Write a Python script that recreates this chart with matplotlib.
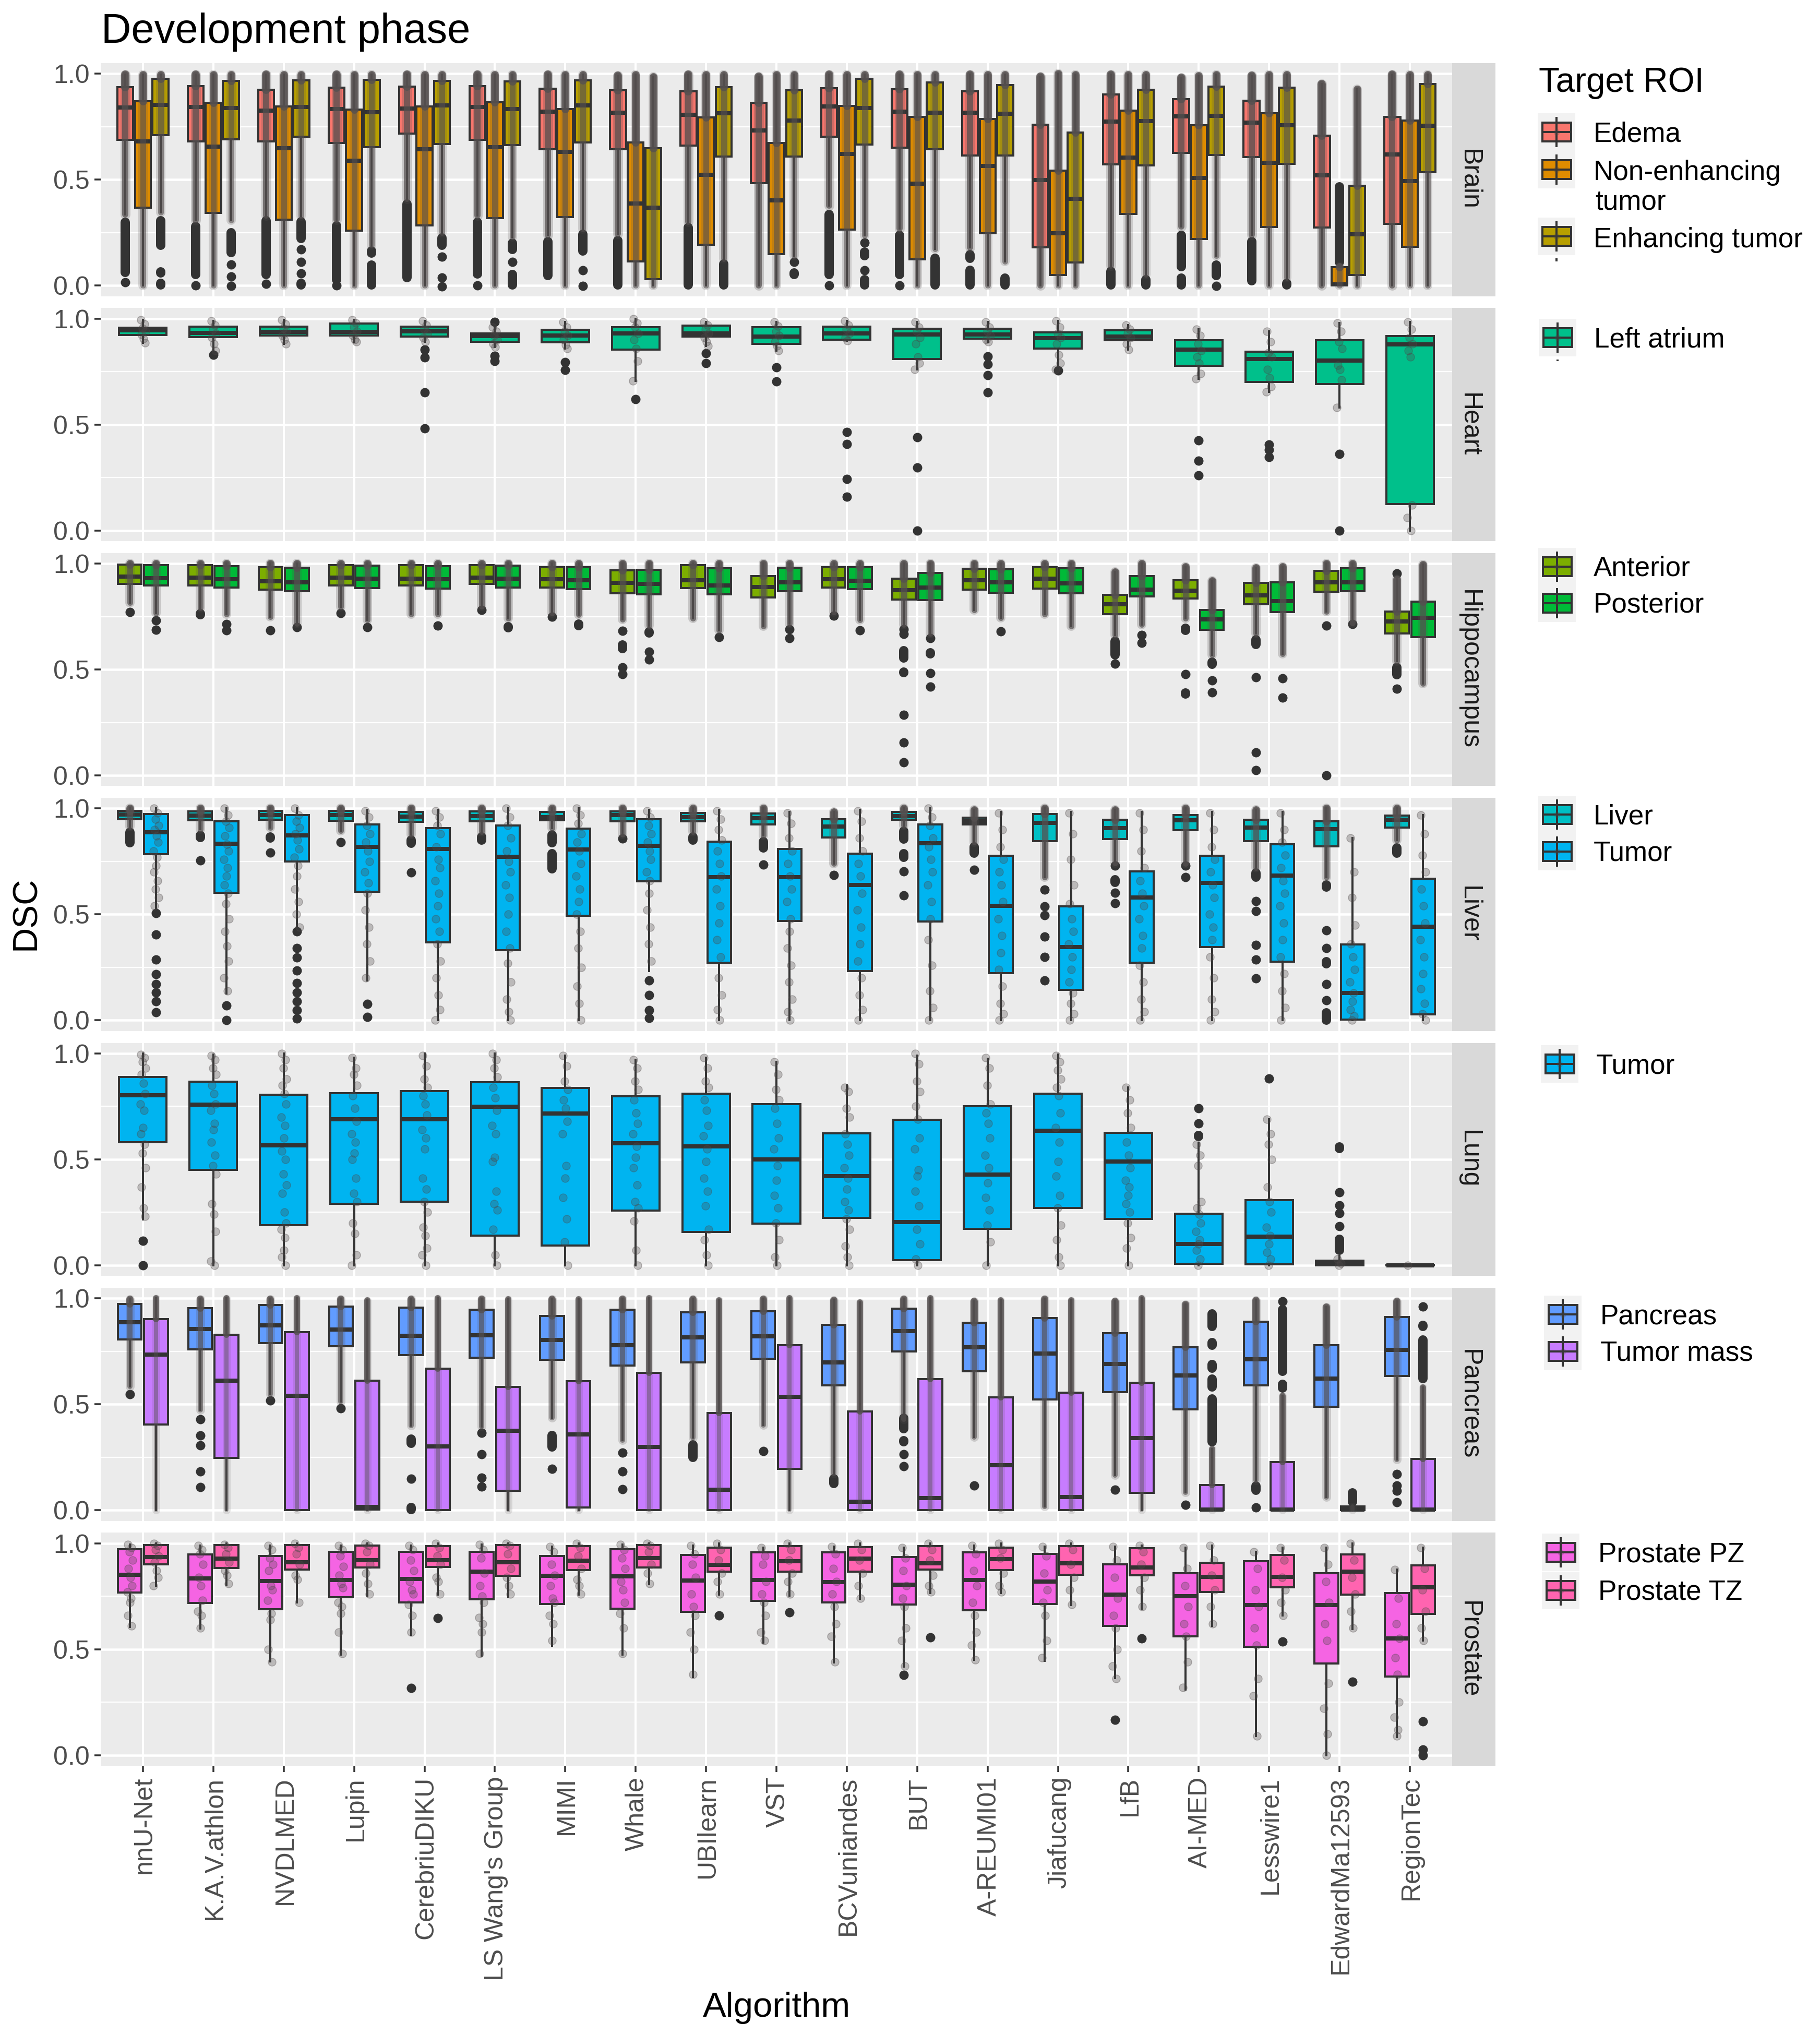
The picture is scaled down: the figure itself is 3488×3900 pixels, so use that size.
import matplotlib
matplotlib.use('Agg')
import matplotlib.pyplot as plt
from matplotlib.patches import Rectangle
from matplotlib.transforms import ScaledTranslation

DPI = 100
W, H = 3488, 3900
plt.rcParams['font.family'] = ['Liberation Sans', 'DejaVu Sans']

def px(n):
    return n * 72 / DPI

algorithms = ['nnU-Net', 'K.A.V.athlon', 'NVDLMED', 'Lupin', 'CerebriuDIKU', "LS Wang's Group", 'MIMI',
              'Whale', 'UBIlearn', 'VST', 'BCVuniandes', 'BUT', 'A-REUMI01', 'Jiafucang', 'LfB', 'AI-MED',
              'Lesswire1', 'EdwardMa12593', 'RegionTec']

# each row: q1, median, q3, whisker low, whisker high, outliers
# an outlier is one value, or a (top, bottom) stretch where the dots run together
edema = [
    (.688, .84, .936, .335, .995, [(.32, .04), .016]),
    (.681, .842, .942, .308, .995, [(.30, .03), 0]),
    (.681, .825, .924, .33, .995, [(.328, .03), .008]),
    (.673, .832, .934, .31, .995, [(.304, .005), 0]),
    (.718, .836, .94, .41, .995, [(.406, .016)]),
    (.687, .843, .942, .33, .995, [(.32, .033), 0]),
    (.643, .821, .929, .24, .995, [(.23, .025)]),
    (.643, .817, .921, .245, .99, [(.234, -.02)]),
    (.661, .807, .917, .3, .995, [(.296, -.02)]),
    (.483, .731, .862, 0, .985, []),
    (.702, .846, .932, .378, .995, [(.357, .03), 0]),
    (.651, .821, .926, .27, .995, [(.259, .03), 0]),
    (.613, .815, .917, .18, .995, [(.168, .107), (.094, -.02)]),
    (.181, .497, .759, 0, .985, []),
    (.572, .773, .901, .095, .995, [(.09, -.02)]),
    (.626, .798, .88, .279, .98, [(.259, .066), (.057, -.02)]),
    (.606, .768, .873, .24, .99, [(.23, 0)]),
    (.275, .52, .708, 0, .952, []),
    (.291, .618, .796, 0, .995, []),
]
non_enhancing = [
    (.368, .68, .87, 0, .995, []),
    (.343, .657, .862, 0, .995, []),
    (.312, .649, .846, 0, .995, []),
    (.259, .589, .831, 0, .995, []),
    (.283, .643, .846, 0, .995, []),
    (.319, .654, .864, 0, .995, []),
    (.323, .63, .833, 0, .995, []),
    (.115, .388, .675, 0, .995, []),
    (.193, .524, .795, 0, .995, []),
    (.148, .402, .673, 0, .995, []),
    (.263, .622, .848, 0, .995, []),
    (.123, .48, .796, 0, .995, []),
    (.246, .564, .787, 0, .995, []),
    (.049, .248, .542, 0, 1.0, []),
    (.338, .603, .825, 0, .995, []),
    (.22, .509, .757, 0, .99, []),
    (.277, .579, .813, 0, .995, []),
    (0, .005, .086, 0, .09, [(.489, .09)]),
    (.183, .494, .78, 0, .995, []),
]
enhancing = [
    (.709, .854, .975, .345, .995, [(.328, .168), (.086, .037), (.033, -.02)]),
    (.691, .837, .966, .308, .995, [(.271, .133), (.115, .082), (.062, .025), (.016, -.02)]),
    (.702, .842, .969, .328, .995, [(.324, .2), (.189, .152), (.131, .094), (.074, .041), (.033, -.02)]),
    (.653, .819, .97, .189, .995, [(.185, .131), (.119, -.02)]),
    (.669, .85, .966, .25, .995, [(.246, .168), (.156, .115), (.053, .02), (.012, -.02)]),
    (.663, .832, .965, .23, .995, [(.222, .148), (.131, .094), (.074, -.02)]),
    (.676, .851, .969, .267, .995, [(.263, .14), (.09, .053), (.016, -.02)]),
    (.03, .367, .649, 0, .985, []),
    (.608, .814, .936, .127, .995, [(.123, -.02)]),
    (.608, .778, .922, .14, .995, [(.131, .094), (.082, .029), (.025, -.02)]),
    (.665, .839, .975, .238, .995, [(.218, .185), (.181, .119), (.09, .053), (.049, -.02)]),
    (.643, .817, .959, .172, .995, [(.152, -.02)]),
    (.613, .81, .946, .115, .995, [(.057, -.02)]),
    (.108, .41, .722, 0, .995, []),
    (.567, .776, .924, .053, .995, [(.049, -.02)]),
    (.616, .8, .94, .14, .995, [(.119, .025), (.016, -.02)]),
    (.575, .758, .934, .037, .995, [(.033, -.02)]),
    (.051, .242, .47, 0, .928, []),
    (.536, .755, .952, 0, .995, []),
]
left_atrium = [
    (.924, .946, .958, .885, .995, []),
    (.912, .933, .962, .85, .99, [.829]),
    (.92, .938, .962, .88, .995, []),
    (.92, .938, .977, .89, .995, []),
    (.915, .94, .963, .89, .99, [.854, .817, .651, .483]),
    (.891, .917, .931, .866, .96, [.985, .825, .80]),
    (.888, .921, .948, .86, .985, [.795, .758]),
    (.854, .931, .961, .705, 1.0, [.62]),
    (.915, .93, .966, .87, .985, [.837, .79]),
    (.882, .915, .961, .85, .985, [.77, .704]),
    (.90, .93, .963, .895, .99, [.465, .408, .242, .158]),
    (.81, .926, .952, .76, .985, [.44, .296, 0]),
    (.905, .925, .952, .89, .985, [.821, .784, .733, .652]),
    (.86, .908, .934, .76, .99, [.755]),
    (.898, .915, .944, .855, .97, []),
    (.777, .854, .898, .715, .95, [.425, .33, .259]),
    (.70, .81, .844, .655, .94, [.406, .382, .346]),
    (.691, .802, .898, .58, .98, [.36, 0]),
    (.125, .878, .918, 0, .985, []),
]
anterior = [
    (.903, .938, .996, .815, 1.0, [.77]),
    (.897, .934, .992, .79, 1.0, [(.786, .737)]),
    (.878, .916, .984, .749, 1.0, [.684]),
    (.897, .934, .993, .795, 1.0, [.766]),
    (.897, .928, .992, .762, 1.0, []),
    (.904, .934, .994, .799, 1.0, [.781]),
    (.887, .926, .984, .766, 1.0, [.749]),
    (.86, .91, .969, .737, 1.0, [(.70, .667), (.638, .577), .511, .478]),
    (.885, .922, .992, .741, 1.0, []),
    (.84, .889, .94, .704, 1.0, []),
    (.887, .926, .982, .77, 1.0, [.753]),
    (.83, .875, .928, .712, 1.0, [.689, .667, (.61, .532), (.511, .462), (.429, .384), .285, (.174, .137), .061]),
    (.877, .922, .975, .782, 1.0, [(.749, .704)]),
    (.882, .928, .982, .762, 1.0, []),
    (.762, .807, .852, .663, .96, [(.655, .548), .527]),
    (.836, .873, .922, .741, .985, [(.717, .663), .477, (.412, .363)]),
    (.807, .85, .908, .671, .98, [(.663, .597), .462, .108, .025]),
    (.866, .911, .965, .774, 1.0, [(.725, .688), 0]),
    (.669, .726, .774, .54, .926, [(.975, .934), (.532, .453), .408]),
]
posterior = [
    (.896, .932, .993, .766, 1.0, [.731, .688]),
    (.887, .926, .989, .762, 1.0, [.714, .684]),
    (.869, .911, .981, .716, 1.0, [.70]),
    (.885, .928, .99, .733, 1.0, [.70]),
    (.882, .926, .989, .762, 1.0, [.706]),
    (.887, .93, .99, .741, 1.0, [(.725, .675)]),
    (.879, .922, .982, .758, 1.0, [(.737, .684)]),
    (.855, .903, .971, .708, 1.0, [(.70, .651), .585, .548]),
    (.855, .897, .977, .684, 1.0, [.652]),
    (.87, .911, .981, .716, 1.0, [.689, .647]),
    (.879, .919, .984, .733, 1.0, [.684]),
    (.827, .887, .955, .671, 1.0, [.647, (.601, .552), .482, (.437, .40)]),
    (.863, .911, .974, .745, 1.0, [.681]),
    (.86, .907, .977, .704, 1.0, []),
    (.844, .878, .94, .712, 1.0, [.663, .626]),
    (.688, .737, .78, .569, .92, [(.556, .503), .448, .392]),
    (.77, .822, .912, .573, .985, [.458, .367]),
    (.869, .911, .979, .72, 1.0, [.714]),
    (.653, .744, .821, .433, .996, [(.429, .384)]),
]
liver = [
    (.95, .971, .99, .915, 1.0, [(.911, .817)]),
    (.944, .966, .987, .903, 1.0, [(.895, .842), .754]),
    (.947, .969, .99, .911, 1.0, [(.887, .838), .793]),
    (.943, .969, .99, .895, 1.0, [.842]),
    (.936, .962, .985, .878, 1.0, [(.874, .813), .698]),
    (.94, .965, .987, .89, 1.0, [(.887, .829)]),
    (.944, .96, .985, .907, 1.0, [(.899, .817), (.809, .694)]),
    (.94, .969, .987, .878, 1.0, [.858]),
    (.94, .96, .98, .89, 1.0, [(.887, .829)]),
    (.924, .954, .976, .874, 1.0, [(.866, .792), .735]),
    (.864, .915, .95, .739, .985, [.685]),
    (.946, .965, .985, .92, 1.0, [(.915, .833), (.809, .747), .702, .59]),
    (.924, .94, .958, .842, .995, [(.842, .768), .71]),
    (.846, .933, .973, .677, 1.0, [.616, .538, .497, .394, .30, .189]),
    (.856, .907, .947, .743, .995, [.73, (.686, .628), .603, .554]),
    (.898, .944, .969, .739, 1.0, [.73, .677]),
    (.846, .911, .947, .72, .995, [(.718, .653), .563, .517, (.37, .34), .287, .197]),
    (.821, .903, .94, .677, 1.0, [(.661, .608), .424, .341, (.30, .246), .172, .094, (.057, -.02)]),
    (.91, .946, .966, .85, 1.0, [(.837, .768)]),
]
liver_tumor = [
    (.784, .887, .973, .529, 1.0, [.505, .405, .287, .218, .172, .131, .09, .037]),
    (.601, .833, .94, .127, 1.0, [.07, 0]),
    (.75, .872, .969, .42, 1.0, [.419, .341, .297, .234, .176, .131, .09, .049, .008]),
    (.608, .819, .924, .189, .995, [.078, .016]),
    (.368, .81, .907, 0, .995, []),
    (.33, .773, .92, 0, 1.0, []),
    (.493, .806, .905, 0, 1.0, []),
    (.656, .825, .95, .233, .995, [.189, .119, .049, .012]),
    (.273, .677, .844, 0, .995, []),
    (.468, .677, .809, 0, .985, []),
    (.232, .64, .787, 0, .995, []),
    (.466, .836, .924, 0, 1.0, []),
    (.222, .54, .778, 0, .985, []),
    (.145, .347, .539, 0, .985, []),
    (.271, .579, .702, 0, .985, []),
    (.347, .648, .778, 0, .985, []),
    (.277, .683, .831, 0, .985, []),
    (.004, .129, .359, 0, .862, []),
    (.029, .443, .669, 0, .97, []),
]
lung_tumor = [
    (.581, .803, .888, .217, 1.0, [.115, 0]),
    (.451, .759, .867, 0, .995, []),
    (.19, .566, .806, 0, 1.0, []),
    (.291, .689, .812, 0, .98, []),
    (.299, .689, .823, 0, 1.0, []),
    (.141, .748, .864, 0, 1.0, []),
    (.094, .716, .837, 0, .99, []),
    (.257, .576, .798, 0, .97, []),
    (.156, .562, .81, 0, .98, []),
    (.197, .50, .761, 0, .96, []),
    (.224, .421, .623, 0, .85, []),
    (.023, .203, .687, 0, .99, []),
    (.171, .428, .751, 0, .975, []),
    (.271, .636, .81, 0, .995, []),
    (.22, .49, .626, 0, .84, []),
    (.008, .101, .244, 0, .578, [.742, .67, (.636, .587)]),
    (.004, .134, .308, 0, .689, [.882]),
    (0, .012, .022, 0, .045, [(.582, .529), .345, .283, .246, (.2, .168), (.144, .049)]),
    (0, 0, .002, 0, .002, []),
]
pancreas = [
    (.805, .887, .973, .584, .995, [.547]),
    (.76, .856, .954, .473, .995, [.428, .354, .305, .182, .108]),
    (.79, .873, .969, .547, .995, [.518]),
    (.773, .854, .961, .514, .995, [.481]),
    (.732, .824, .957, .399, .995, [(.358, .293), .149, (.034, -.02)]),
    (.719, .827, .946, .395, .995, [.366, .264, .153, .112]),
    (.711, .803, .916, .436, .995, [(.375, .276), .194]),
    (.682, .78, .946, .33, .995, [.272, .182, .10]),
    (.698, .817, .934, .342, .995, [(.33, .227)]),
    (.716, .82, .94, .403, .995, [.28]),
    (.589, .697, .876, .174, .99, [(.17, .104)]),
    (.749, .846, .951, .428, .995, [(.457, .362), (.35, .30), .264, .207]),
    (.656, .768, .884, .346, .985, [.116]),
    (.522, .739, .907, .018, .995, []),
    (.557, .69, .835, .166, .985, [.096]),
    (.477, .635, .768, .084, .97, [.026]),
    (.589, .713, .891, .141, .99, [(.137, .071), .014]),
    (.489, .622, .78, .063, .96, []),
    (.633, .757, .911, .239, .985, [.17, .116, .092, (.055, .018)]),
]
tumor_mass = [
    (.405, .735, .902, 0, 1.0, []),
    (.248, .612, .828, 0, 1.0, []),
    (0, .539, .84, 0, 1.0, []),
    (.002, .016, .612, 0, .99, []),
    (0, .301, .667, 0, 1.0, []),
    (.092, .375, .581, 0, .995, []),
    (.014, .357, .608, 0, .995, []),
    (0, .298, .649, 0, 1.0, []),
    (0, .096, .458, 0, .99, []),
    (.196, .534, .78, 0, 1.0, []),
    (0, .04, .467, 0, .98, []),
    (0, .057, .62, 0, 1.0, []),
    (0, .212, .533, 0, .99, []),
    (0, .061, .556, 0, .99, []),
    (.082, .34, .602, 0, 1.0, []),
    (0, .002, .119, 0, .289, [(.948, .846), (.813, .756), (.71, .649), (.64, .56), (.547, .30)]),
    (0, .002, .227, 0, .54, [(1.0, .97), (.969, .633), (.616, .555)]),
    (0, .002, .018, 0, .018, [(.104, .018)]),
    (0, .002, .243, 0, .58, [.961, (.895, .846), (.825, .6)]),
]
prostate_pz = [
    (.768, .852, .971, .606, .995, []),
    (.718, .833, .947, .598, .99, []),
    (.688, .822, .941, .442, .99, []),
    (.745, .828, .959, .475, .99, []),
    (.721, .832, .961, .569, .99, [.317]),
    (.736, .867, .959, .47, .995, []),
    (.713, .846, .941, .516, .985, []),
    (.692, .844, .971, .475, .995, []),
    (.676, .825, .944, .368, .99, []),
    (.729, .828, .957, .532, .98, []),
    (.722, .818, .957, .438, .985, []),
    (.71, .805, .934, .417, .98, [.378]),
    (.684, .828, .957, .45, .99, []),
    (.713, .819, .949, .446, .985, []),
    (.61, .758, .90, .364, .985, [.167]),
    (.561, .751, .859, .31, .98, []),
    (.511, .709, .915, .089, .96, []),
    (.432, .709, .86, 0, .98, []),
    (.372, .551, .766, .085, .875, []),
]
prostate_tz = [
    (.90, .936, .993, .799, 1.0, []),
    (.884, .928, .992, .803, 1.0, []),
    (.877, .91, .993, .721, 1.0, []),
    (.885, .92, .99, .754, 1.0, []),
    (.889, .92, .986, .758, 1.0, [.647]),
    (.846, .911, .992, .745, 1.0, []),
    (.874, .918, .986, .758, 1.0, []),
    (.885, .93, .992, .807, 1.0, []),
    (.866, .899, .98, .758, 1.0, [.659]),
    (.867, .915, .986, .754, 1.0, [.674]),
    (.865, .928, .982, .737, 1.0, []),
    (.877, .906, .988, .766, 1.0, [.557]),
    (.873, .926, .98, .766, 1.0, []),
    (.852, .906, .986, .709, 1.0, []),
    (.848, .885, .977, .692, .99, [.551]),
    (.77, .842, .908, .61, .99, []),
    (.792, .842, .944, .659, .98, [.536]),
    (.758, .866, .947, .594, 1.0, [.346]),
    (.667, .793, .897, .54, .98, [.158, .027, 0]),
]

# individual dots that can be told apart
heart_pts = [
    [.995, .975, .955, .94, .925, .905, .885],
    [.99, .97, .95, .93, .91, .88, .85],
    [.995, .975, .955, .94, .92, .9, .88],
    [.995, .98, .96, .94, .92, .9, .89],
    [.99, .97, .95, .93, .91, .89],
    [.96, .94, .92, .9, .88, .866],
    [.985, .96, .94, .92, .9, .875, .86],
    [1.0, .98, .96, .93, .9, .86, .8, .705],
    [.985, .97, .95, .93, .91, .89, .87],
    [.985, .965, .94, .92, .89, .87, .85],
    [.99, .97, .95, .93, .91, .895],
    [.985, .96, .94, .91, .88, .82, .79, .76],
    [.985, .96, .94, .92, .9, .89],
    [.99, .96, .93, .91, .88, .83, .79, .76],
    [.97, .95, .93, .91, .88, .855],
    [.95, .92, .88, .85, .82, .79, .74, .715],
    [.94, .89, .84, .82, .76, .72, .68, .655],
    [.98, .94, .89, .86, .78, .76, .71, .58],
    [.985, .95, .91, .88, .85, .82, .12, .06, 0],
]
liver_tumor_pts = [
    [1.0, .98, .95, .92, .9, .87, .84, .8, .77, .73, .7, .66, .62, .58, .54],
    [1.0, .97, .94, .91, .87, .83, .8, .76, .72, .68, .64, .6, .55, .48, .42, .35, .28, .2, .14],
    [1.0, .97, .94, .91, .88, .85, .81, .77, .73, .68, .62, .56, .5, .44],
    [.99, .96, .92, .88, .84, .8, .75, .7, .65, .6, .52, .44, .36, .28, .2],
    [.99, .96, .92, .88, .82, .76, .72, .66, .6, .54, .48, .42, .36, .28, .2, .12, .05, 0],
    [1.0, .96, .92, .86, .8, .75, .7, .64, .58, .5, .42, .34, .27, .18, .1, .04, 0],
    [1.0, .97, .93, .88, .84, .8, .74, .68, .62, .56, .5, .42, .34, .25, .16, .08, 0],
    [.99, .96, .92, .88, .84, .8, .76, .7, .66, .6, .52, .44, .36, .28],
    [.99, .95, .9, .85, .8, .74, .68, .62, .54, .46, .38, .3, .2, .12, .05, 0],
    [.98, .93, .86, .8, .74, .68, .62, .56, .48, .42, .34, .26, .18, .1, .04, 0],
    [.99, .94, .86, .8, .74, .68, .6, .52, .44, .36, .28, .2, .12, .05, 0],
    [1.0, .96, .92, .86, .82, .76, .7, .64, .56, .48, .38, .26, .14, .06, 0],
    [.98, .9, .82, .76, .7, .64, .56, .48, .4, .32, .24, .16, .08, .03, 0],
    [.98, .88, .76, .64, .55, .48, .42, .36, .3, .24, .18, .13, .08, .03, 0],
    [.98, .9, .8, .72, .66, .6, .54, .48, .4, .34, .26, .18, .1, .04, 0],
    [.98, .9, .82, .76, .7, .64, .58, .5, .44, .38, .3, .2, .1, .04, 0],
    [.98, .9, .84, .78, .72, .66, .6, .54, .46, .38, .3, .22, .14, .06, 0],
    [.86, .7, .58, .45, .36, .3, .24, .18, .13, .09, .05, .02, 0],
    [.97, .88, .78, .7, .62, .54, .46, .38, .3, .22, .15, .08, .03, 0],
]
lung_pts = [
    [.995, .98, .96, .93, .9, .86, .81, .76, .73, .65, .62, .57, .53, .46, .37, .27, .23],
    [.99, .97, .93, .9, .85, .81, .76, .73, .67, .64, .58, .52, .47, .43, .29, .24, .16, .02, 0],
    [1.0, .97, .93, .88, .85, .81, .76, .7, .66, .6, .54, .5, .43, .38, .34, .25, .2, .17, .13, .07, .04, 0],
    [.98, .93, .9, .85, .8, .74, .68, .62, .58, .53, .5, .41, .34, .3, .2, .15, .05, 0],
    [.99, .94, .88, .84, .8, .76, .71, .64, .6, .55, .41, .36, .3, .25, .18, .14, .08, .05, 0],
    [1.0, .97, .93, .89, .84, .79, .73, .66, .62, .51, .49, .35, .29, .26, .17, .05, 0],
    [.99, .94, .87, .83, .78, .74, .68, .62, .47, .41, .32, .22, .11, 0],
    [.97, .93, .87, .83, .78, .72, .67, .62, .56, .51, .46, .38, .3, .27, .21, .07, 0],
    [.98, .93, .87, .84, .78, .73, .66, .61, .55, .49, .41, .35, .28, .17, .12, .05, 0],
    [.96, .9, .83, .78, .74, .67, .6, .55, .47, .4, .33, .27, .2, .12, .04, 0],
    [.84, .82, .74, .7, .62, .57, .52, .46, .41, .36, .3, .26, .22, .17, .09, .04, 0],
    [1.0, .95, .87, .82, .75, .69, .6, .55, .45, .42, .35, .28, .17, .1, .03, 0],
    [.98, .93, .85, .76, .72, .67, .6, .52, .46, .39, .32, .26, .19, .11, 0],
    [.99, .96, .92, .88, .84, .8, .72, .65, .58, .49, .42, .33, .27, .19, .12, .04, 0],
    [.84, .78, .72, .65, .58, .52, .46, .4, .37, .33, .29, .25, .2, .13, .08, 0],
    [.57, .52, .47, .3, .27, .24, .2, .16, .12, .1, .07, .03, 0],
    [.69, .62, .57, .5, .37, .3, .25, .18, .14, .1, .06, .03, 0],
    [.03, .01, 0],
    [0],
]
pz_pts = [
    [.995, .98, .96, .92, .88, .84, .8, .77, .74, .72, .66, .61],
    [.99, .97, .95, .9, .84, .8, .73, .68, .66, .6],
    [.99, .97, .93, .9, .87, .8, .78, .73, .67, .64, .5, .44],
    [.99, .97, .94, .89, .85, .81, .79, .72, .7, .67, .58, .48],
    [.99, .97, .92, .87, .82, .78, .76, .71, .66, .58],
    [.995, .97, .93, .86, .8, .75, .72, .65, .62, .58, .48],
    [.985, .96, .9, .85, .8, .74, .72, .66, .62, .54],
    [.995, .97, .93, .88, .82, .78, .72, .67, .6, .48],
    [.99, .95, .9, .84, .76, .7, .66, .58, .5, .38],
    [.98, .94, .9, .82, .76, .72, .66, .58, .54],
    [.985, .95, .88, .82, .76, .7, .62, .56, .44],
    [.98, .93, .87, .8, .74, .7, .6, .54, .42],
    [.99, .95, .87, .8, .72, .66, .58, .52, .45],
    [.985, .94, .86, .78, .72, .66, .54, .46],
    [.985, .92, .84, .74, .66, .6, .5, .42, .36],
    [.98, .88, .8, .7, .62, .56, .44, .32],
    [.96, .88, .78, .7, .6, .52, .36, .28, .09],
    [.98, .9, .82, .72, .62, .54, .34, .22, .1, 0],
    [.875, .74, .62, .55, .46, .38, .25, .18, .12, .09],
]
tz_pts = [
    [1.0, .99, .97, .94, .91, .87, .84, .8],
    [.995, .98, .95, .91, .87, .85, .81],
    [1.0, .98, .95, .9, .85, .83, .72],
    [1.0, .99, .96, .9, .86, .81, .76],
    [1.0, .98, .94, .9, .84, .82, .76],
    [1.0, .99, .95, .88, .84, .8, .76],
    [1.0, .98, .94, .88, .83, .8, .76],
    [1.0, .99, .96, .9, .86, .81],
    [1.0, .97, .92, .86, .82, .76],
    [1.0, .97, .92, .86, .82, .76],
    [1.0, .97, .92, .86, .8, .74],
    [1.0, .97, .92, .85, .8, .77],
    [1.0, .97, .93, .86, .8, .77],
    [1.0, .97, .9, .84, .78, .71],
    [.99, .96, .9, .84, .78, .7],
    [.99, .92, .85, .78, .7, .62],
    [.98, .92, .84, .78, .72, .66],
    [1.0, .92, .84, .76, .68, .6],
    [.98, .88, .78, .68, .6, .54],
]

# panel name, then (label, colour, rows, dot lists, cloud alpha, cloud width in px)
panels = [
    ('Brain', [('Edema', '#F8766D', edema, None, .72, 14),
               ('Non-enhancing', '#DE8C00', non_enhancing, None, .58, 13),
               ('Enhancing tumor', '#B79F00', enhancing, None, .58, 13)]),
    ('Heart', [('Left atrium', '#00C08B', left_atrium, heart_pts, 0, 0)]),
    ('Hippocampus', [('Anterior', '#7CAE00', anterior, None, .7, 13),
                     ('Posterior', '#00BA38', posterior, None, .7, 13)]),
    ('Liver', [('Liver', '#00BFC4', liver, None, .7, 13),
               ('Tumor', '#00B4F0', liver_tumor, liver_tumor_pts, 0, 0)]),
    ('Lung', [('Tumor', '#00B4F0', lung_tumor, lung_pts, 0, 0)]),
    ('Pancreas', [('Pancreas', '#619CFF', pancreas, None, .62, 12),
                  ('Tumor mass', '#C77CFF', tumor_mass, None, .42, 10)]),
    ('Prostate', [('Prostate PZ', '#F564E3', prostate_pz, pz_pts, 0, 0),
                  ('Prostate TZ', '#FF64B0', prostate_tz, tz_pts, 0, 0)]),
]

# legend: panel keys as label, colour, key centre y, text y
legend_groups = [
    (2947, 3054, [('Edema', '#F8766D', 253, 258), ('Non-enhancing', '#DE8C00', 325, 331),
                  ('Enhancing tumor', '#B79F00', 453, 460)]),
    (2949, 3055, [('Left atrium', '#00C08B', 647, 652)]),
    (2948, 3054, [('Anterior', '#7CAE00', 1086, 1090), ('Posterior', '#00BA38', 1156, 1160)]),
    (2948, 3054, [('Liver', '#00BFC4', 1561, 1565), ('Tumor', '#00B4F0', 1632, 1636)]),
    (2953, 3059, [('Tumor', '#00B4F0', 2039, 2044)]),
    (2959, 3067, [('Pancreas', '#619CFF', 2519, 2523), ('Tumor mass', '#C77CFF', 2590, 2594)]),
    (2955, 3063, [('Prostate PZ', '#F564E3', 2975, 2979), ('Prostate TZ', '#FF64B0', 3048, 3052)]),
]

EDGE = '#333333'
DOT = '#555050'
PANEL_L, PANEL_R, STRIP_R = 193, 2783, 2866
PANEL_T, PANEL_H, PITCH = 121, 446.5, 469.4
OUT_R = 9 / 405  # half a dot in y units
OUT_D = 18

fig = plt.figure(figsize=(W / DPI, H / DPI), dpi=DPI, facecolor='white')
nudges = [-4, 3, -1, 5, -3, 1, 4, -5, 2, 0]

for p, (name, targets) in enumerate(panels):
    top = PANEL_T + p * PITCH
    ax = fig.add_axes([PANEL_L / W, 1 - (top + PANEL_H) / H, (PANEL_R - PANEL_L) / W, PANEL_H / H],
                      facecolor='#EBEBEB')
    ax.set_xlim(0.4, 19.6)
    ax.set_ylim(-0.05, 1.05)
    for s in ax.spines.values():
        s.set_visible(False)
    ax.set_yticks([0, .5, 1])
    ax.set_yticklabels(['0.0', '0.5', '1.0'], fontsize=px(50), color='#4D4D4D')
    ax.set_yticks([.25, .75], minor=True)
    ax.set_xticks(range(1, 20))
    ax.tick_params(axis='y', which='major', length=px(12), width=px(3.5), color=EDGE, pad=px(9))
    ax.tick_params(axis='y', which='minor', length=0)
    ax.set_axisbelow(True)
    ax.grid(True, axis='y', which='major', color='white', lw=px(4.5))
    ax.grid(True, axis='y', which='minor', color='white', lw=px(2.2))
    ax.grid(True, axis='x', which='major', color='white', lw=px(4))
    if p == len(panels) - 1:
        ax.tick_params(axis='x', length=px(12), width=px(3.5), color=EDGE, pad=px(9))
        ax.set_xticklabels(algorithms, rotation=90, fontsize=px(50), color='#4D4D4D', ha='center', va='top')
        for lab in ax.get_xticklabels():
            lab.set_transform(lab.get_transform() + ScaledTranslation(3 / DPI, 0, fig.dpi_scale_trans))
    else:
        ax.tick_params(axis='x', length=0, labelbottom=False)

    n = len(targets)
    slot = 0.75 / n
    for t, (label, colour, rows, dots, alpha, band) in enumerate(targets):
        xs = [i + 1 + (t - (n - 1) / 2) * slot for i in range(19)]
        stats = [dict(q1=r[0], med=r[1], q3=r[2], whislo=r[3], whishi=r[4], fliers=[]) for r in rows]
        ax.bxp(stats, positions=xs, widths=slot * 0.9, patch_artist=True, showcaps=False, showfliers=False,
               manage_ticks=False, zorder=2,
               boxprops=dict(facecolor=colour, edgecolor=EDGE, linewidth=px(4)),
               medianprops=dict(color=EDGE, linewidth=px(8), solid_capstyle='butt'),
               whiskerprops=dict(color=EDGE, linewidth=px(4)))
        for x, r in zip(xs, rows):
            # boxplot outliers
            for o in r[5]:
                if isinstance(o, tuple):
                    hi, lo = o[0] - OUT_R, o[1] + OUT_R
                    if hi <= lo:
                        ax.scatter([x], [(hi + lo) / 2], s=px(OUT_D) ** 2, color=EDGE, lw=0, zorder=3)
                    else:
                        ax.plot([x, x], [lo, hi], color=EDGE, lw=px(OUT_D), solid_capstyle='round', zorder=3)
                else:
                    ax.scatter([x], [o], s=px(OUT_D) ** 2, color=EDGE, lw=0, zorder=3)
            # packed jittered dots read as a column, densest above the box
            if band:
                ax.plot([x, x], [r[3], r[4]], color=DOT, alpha=alpha * .35, lw=px(band + 5),
                        solid_capstyle='round', zorder=4)
                ax.plot([x, x], [r[3], r[4]], color=DOT, alpha=alpha, lw=px(band - 2),
                        solid_capstyle='round', zorder=4)
                ax.plot([x, x], [r[2], r[4]], color=DOT, alpha=.8, lw=px(band + 2),
                        solid_capstyle='round', zorder=4)
        if dots is not None:
            for x, vals in zip(xs, dots):
                jx = [x + nudges[k % len(nudges)] / 135 for k in range(len(vals))]
                ax.scatter(jx, vals, s=px(15) ** 2, facecolor=(.3, .28, .28, .3),
                           edgecolor=(.3, .28, .28, .35), lw=px(1.5), zorder=4)

    fig.add_artist(Rectangle((PANEL_R / W, 1 - (top + PANEL_H) / H), (STRIP_R - PANEL_R) / W, PANEL_H / H,
                             transform=fig.transFigure, facecolor='#D9D9D9', edgecolor='none'))
    fig.text(((PANEL_R + STRIP_R) / 2 - 10) / W, 1 - (top + PANEL_H / 2) / H, name, rotation=-90, fontsize=px(50),
             color='#1A1A1A', ha='center', va='center')

# titles
fig.text(194 / W, 1 - 82 / H, 'Development phase', fontsize=px(79.5), color='black', ha='left', va='baseline')
fig.text(50 / W, 1 - 1750 / H, 'DSC', rotation=90, fontsize=px(67), color='black', ha='center', va='center')
fig.text(1488 / W, 1 - 3848 / H, 'Algorithm', fontsize=px(67), color='black', ha='center', va='center')

# legends sit on a pixel-sized layer over the figure
lay = fig.add_axes([0, 0, 1, 1], facecolor='none')
lay.set_xlim(0, W)
lay.set_ylim(H, 0)
lay.axis('off')
lay.text(2949, 176, 'Target ROI', fontsize=px(65.5), color='black', ha='left', va='baseline')
for key_l, text_l, keys in legend_groups:
    for label, colour, cy, ty in keys:
        cx = key_l + 36
        lay.add_patch(Rectangle((key_l, cy - 36), 72, 72, facecolor='#F2F2F2', edgecolor='none'))
        lay.plot([cx, cx], [cy - 29, cy + 29], color=EDGE, lw=px(4), solid_capstyle='butt')
        lay.add_patch(Rectangle((cx - 27.5, cy - 18), 55, 36, facecolor=colour, edgecolor=EDGE, lw=px(4)))
        lay.plot([cx - 27.5, cx + 27.5], [cy, cy], color=EDGE, lw=px(4), solid_capstyle='butt')
        lay.scatter([cx], [cy], s=px(12) ** 2, facecolor=(.3, .28, .28, .25), lw=0, zorder=5)
        lay.text(text_l, ty, label, fontsize=px(53), color='black', ha='left', va='center')
lay.text(3057, 387, 'tumor', fontsize=px(53), color='black', ha='left', va='center')
# the stray whisker ends under the single keys
lay.plot([2983, 2983], [495, 501], color=EDGE, lw=px(4), solid_capstyle='butt')
lay.plot([2985, 2985], [689, 692], color=EDGE, lw=px(4), solid_capstyle='butt')

fig.savefig('out.png', dpi=DPI, facecolor='white')
